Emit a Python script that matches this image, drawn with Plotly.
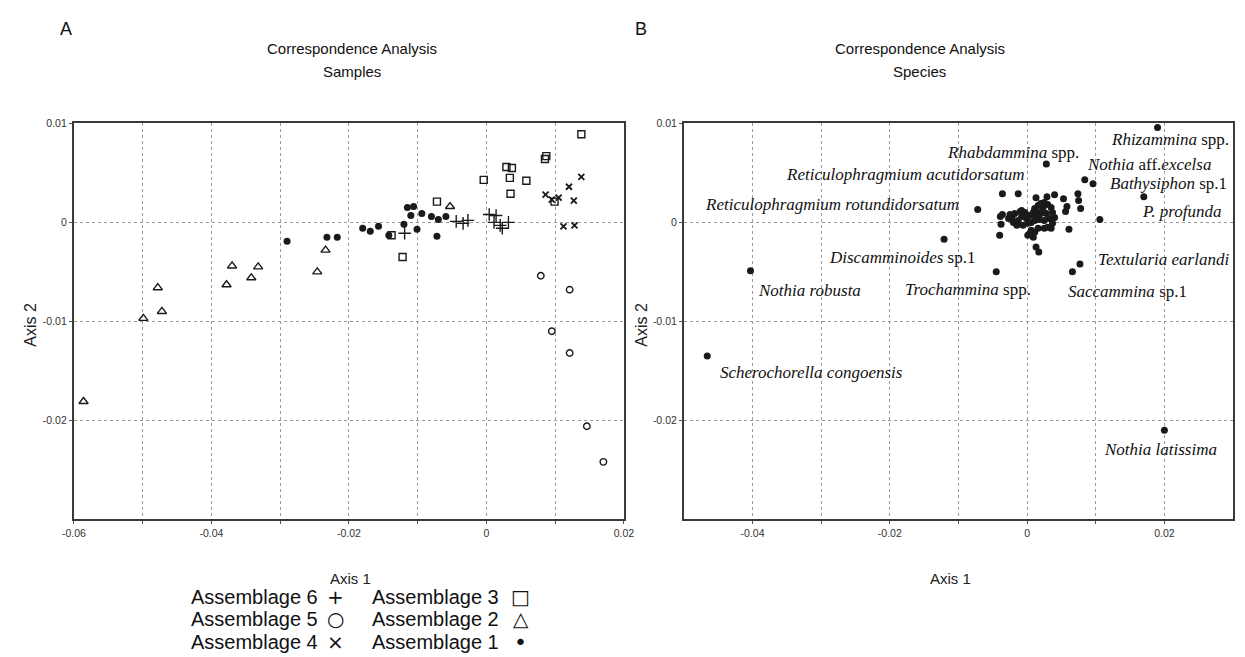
import plotly.graph_objects as go

W, H = 1245, 657

# ---------------- Panel A data (samples) ----------------
a6_x = [-0.0119, -0.0044, -0.0034, -0.0027, 0.0004, 0.0014, 0.0011, 0.0020, 0.0023, 0.0032]
a6_y = [-0.0011, 0.0001, -0.0001, 0.0002, 0.0008, 0.0007, 0.0000, -0.0003, -0.0006, 0.0000]
a5_x = [0.0079, 0.0121, 0.0095, 0.0121, 0.0146, 0.0170]
a5_y = [-0.0054, -0.0068, -0.0110, -0.0132, -0.0206, -0.0242]
a4_x = [0.0086, 0.0095, 0.0105, 0.0120, 0.0138, 0.0127, 0.0112, 0.0128]
a4_y = [0.0028, 0.0023, 0.0025, 0.0036, 0.0046, 0.0022, -0.0004, -0.0003]
a3_x = [-0.0138, -0.0122, -0.0072, -0.0004, 0.0029, 0.0037, 0.0034, 0.0035, 0.0058, 0.0085, 0.0087, 0.0099, 0.0138]
a3_y = [-0.0013, -0.0035, 0.0021, 0.0043, 0.0056, 0.0055, 0.0045, 0.0029, 0.0042, 0.0064, 0.0067, 0.0021, 0.0089]
a2_x = [-0.0586, -0.0499, -0.0478, -0.0472, -0.0378, -0.0370, -0.0342, -0.0332, -0.0246, -0.0234, -0.0053]
a2_y = [-0.0181, -0.0097, -0.0066, -0.0090, -0.0063, -0.0044, -0.0056, -0.0045, -0.0050, -0.0028, 0.0016]
a1_x = [-0.0290, -0.0232, -0.0217, -0.0180, -0.0169, -0.0157, -0.0142, -0.0120, -0.0115, -0.0106,
        -0.0110, -0.0101, -0.0094, -0.0080, -0.0072, -0.0070, -0.0059]
a1_y = [-0.0019, -0.0015, -0.0015, -0.0006, -0.0009, -0.0004, -0.0013, -0.0002, 0.0015, 0.0016,
        0.0007, -0.0007, 0.0009, 0.0006, -0.0014, 0.0003, 0.0006]

legend_names = ["Assemblage 6", "Assemblage 5", "Assemblage 4", "Assemblage 3", "Assemblage 2", "Assemblage 1"]
legend_glyphs = ["+", "○", "×", "□", "△", "•"]

# ---------------- Panel B data (species) ----------------
lab_names = ["<i>Rhizammina</i> spp.", "<i>Rhabdammina</i> spp.", "<i>Nothia</i> aff.<i>excelsa</i>",
             "<i>Bathysiphon</i> sp.1", "<i>P. profunda</i>", "<i>Reticulophragmium acutidorsatum</i>",
             "<i>Reticulophragmium rotundidorsatum</i>", "<i>Discamminoides</i> sp.1", "<i>Nothia robusta</i>",
             "<i>Trochammina</i> spp.", "<i>Textularia earlandi</i>", "<i>Saccammina</i> sp.1",
             "<i>Scherochorella congoensis</i>", "<i>Nothia latissima</i>"]
lab_x = [0.0190, 0.0028, 0.0084, 0.0096, 0.0170, -0.0036, -0.0072, -0.0121, -0.0403, -0.0045, 0.0077, 0.0066, -0.0466, 0.0200]
lab_y = [0.0096, 0.0059, 0.0043, 0.0039, 0.0026, 0.0029, 0.0013, -0.0017, -0.0049, -0.0050, -0.0042, -0.0050, -0.0135, -0.0210]

other_x = [-0.0013, 0.0013, 0.0029, 0.0040, 0.0053, 0.0058, 0.0056, 0.0074, 0.0075, 0.0078, 0.0106, 0.0061,
           -0.0036, -0.0039, -0.0038, -0.0040,
           -0.0022, -0.0018, -0.0010, -0.0003, -0.0020, -0.0013, -0.0008, -0.0001, 0.0004, 0.0009, 0.0011,
           0.0016, 0.0020, 0.0025, 0.0030, 0.0035, 0.0037, 0.0040, 0.0032, 0.0025, 0.0018, 0.0013, 0.0006,
           0.0001, -0.0006, -0.0015, 0.0020, 0.0028, 0.0016, 0.0023, 0.0011, 0.0037, 0.0030, 0.0025, 0.0035,
           0.0006, 0.0001, 0.0009, 0.0011, 0.0016, 0.0004, 0.0013, 0.0017, -0.0027, -0.0025, -0.0008]
other_y = [0.0029, 0.0025, 0.0026, 0.0028, 0.0024, 0.0016, 0.0011, 0.0029, 0.0022, 0.0014, 0.0003, -0.0007,
           0.0008, 0.0006, -0.0002, -0.0013,
           0.0005, 0.0009, 0.0011, 0.0010, 0.0000, 0.0002, 0.0006, 0.0004, 0.0007, 0.0010, 0.0014,
           0.0017, 0.0019, 0.0020, 0.0018, 0.0015, 0.0010, 0.0005, 0.0004, 0.0002, 0.0003, 0.0005, 0.0000,
           -0.0001, -0.0003, -0.0003, 0.0009, 0.0009, 0.0010, 0.0014, 0.0002, -0.0001, -0.0005, -0.0006, -0.0006,
           -0.0008, -0.0013, -0.0015, -0.0010, -0.0006, -0.0011, -0.0025, -0.0030, 0.0004, 0.0008, 0.0012]

# label offsets (pixels) : (xanchor, xshift, yshift)
lab_offsets = [("left", -49, -12), ("right", 35, 11), ("left", 0, 15), ("left", 15, 0), ("left", -4, -15),
               ("right", 25, 19), ("right", -17, 5), ("right", 33, -18), ("left", 6, -20), ("right", 37, -18),
               ("left", 16, 4), ("left", -6, -20), ("left", 11, -17), ("right", 55, -19)]

# axis ticks
xA_ticks = [-0.06, -0.05, -0.04, -0.03, -0.02, -0.01, 0, 0.01, 0.02]
xA_text = ["-0.06", "", "-0.04", "", "-0.02", "", "0", "", "0.02"]
xB_ticks = [-0.04, -0.03, -0.02, -0.01, 0, 0.01, 0.02]
xB_text = ["-0.04", "", "-0.02", "", "0", "", "0.02"]
y_ticks = [-0.02, -0.01, 0, 0.01]
y_text = ["-0.02", "-0.01", "0", "0.01"]

# ---------------- figure ----------------
fig = go.Figure()
ink = "#1a1a1a"

def add(x, y, symbol, size, xa="x", ya="y", lw=1.4):
    fig.add_trace(go.Scatter(x=x, y=y, mode="markers", xaxis=xa, yaxis=ya, showlegend=False,
                             hoverinfo="skip",
                             marker=dict(symbol=symbol, size=size, color=ink,
                                         line=dict(color=ink, width=lw))))

add(a6_x, a6_y, "cross-thin-open", 9)
add(a5_x, a5_y, "circle-open", 6.5)
add(a4_x, a4_y, "x-thin-open", 6, lw=1.8)
add(a3_x, a3_y, "square-open", 7)
add(a2_x, a2_y, "triangle-up-open", 8)
add(a1_x, a1_y, "circle", 7, lw=0)

add(other_x, other_y, "circle", 7, xa="x2", ya="y2", lw=0)
add(lab_x, lab_y, "circle", 7, xa="x2", ya="y2", lw=0)

def px(v):
    return v / W

def py(v):
    return 1 - v / H

tick_font = dict(family="Liberation Sans, Arial, sans-serif", size=10.5, color="#333")
axis_common = dict(showline=True, linecolor="#3a3a3a", linewidth=2, mirror=True,
                   showgrid=True, gridcolor="#9a9a9a", gridwidth=1, griddash="dot",
                   zeroline=False, ticks="outside", ticklen=3, tickcolor="#555",
                   tickfont=tick_font, tickmode="array")

yd = [py(518), py(118.5)]
fig.update_layout(
    width=W, height=H, margin=dict(l=0, r=0, t=0, b=0),
    paper_bgcolor="white", plot_bgcolor="white", showlegend=False,
    xaxis=dict(domain=[px(63), px(623)], range=[-0.06, 0.02], tickvals=xA_ticks, ticktext=xA_text,
               anchor="y", **axis_common),
    yaxis=dict(domain=yd, range=[-0.03, 0.01], tickvals=y_ticks, ticktext=y_text, anchor="x", **axis_common),
    xaxis2=dict(domain=[px(684), px(1243)], range=[-0.05, 0.03], tickvals=xB_ticks, ticktext=xB_text,
                anchor="y2", **axis_common),
    yaxis2=dict(domain=yd, range=[-0.03, 0.01], tickvals=y_ticks, ticktext=y_text, anchor="x2", **axis_common),
)

sans = "Liberation Sans, Arial, sans-serif"
serif = "Liberation Serif, Times New Roman, serif"
ann = []

def ptxt(text, x, y, size, xanchor="center", angle=0, family=sans, color="#111"):
    ann.append(dict(text=text, x=px(x), y=py(y), xref="paper", yref="paper", showarrow=False,
                    xanchor=xanchor, yanchor="middle", textangle=angle,
                    font=dict(family=family, size=size, color=color)))

ptxt("A", 55, 23, 18)
ptxt("B", 640, 23, 18)
ptxt("Correspondence Analysis", 346, 43, 15)
ptxt("Samples", 346, 66, 15)
ptxt("Correspondence Analysis", 924, 43, 15)
ptxt("Species", 924, 66, 15)
ptxt("Axis 1", 345, 578, 15, color="#222")
ptxt("Axis 1", 955, 578, 15, color="#222")
ptxt("Axis 2", 18, 322, 16, angle=-90, color="#222")
ptxt("Axis 2", 640, 322, 16, angle=-90, color="#222")

# legend (text + glyph)
rows = [596, 619, 642]
for i, (name, g) in enumerate(zip(legend_names, legend_glyphs)):
    col, row = divmod(i, 3)
    tx = 180 if col == 0 else 364
    gx = 329 if col == 0 else 518
    ptxt(name, tx, rows[row], 20, xanchor="left", color="#111")
    ptxt(g, gx, rows[row], 20 if g != "•" else 22, family="DejaVu Sans, Liberation Sans, sans-serif", color="#111")

# species labels
for name, x, y, (xa, xs, ys) in zip(lab_names, lab_x, lab_y, lab_offsets):
    ann.append(dict(text=name, x=x, y=y, xref="x2", yref="y2", showarrow=False,
                    xanchor=xa, yanchor="middle", xshift=xs, yshift=ys,
                    font=dict(family=serif, size=17, color="#111")))

fig.update_layout(annotations=ann)
fig.write_html("out.html", config={"displayModeBar": False},
               post_script="document.body.style.margin='0';document.documentElement.style.overflow='hidden';")
